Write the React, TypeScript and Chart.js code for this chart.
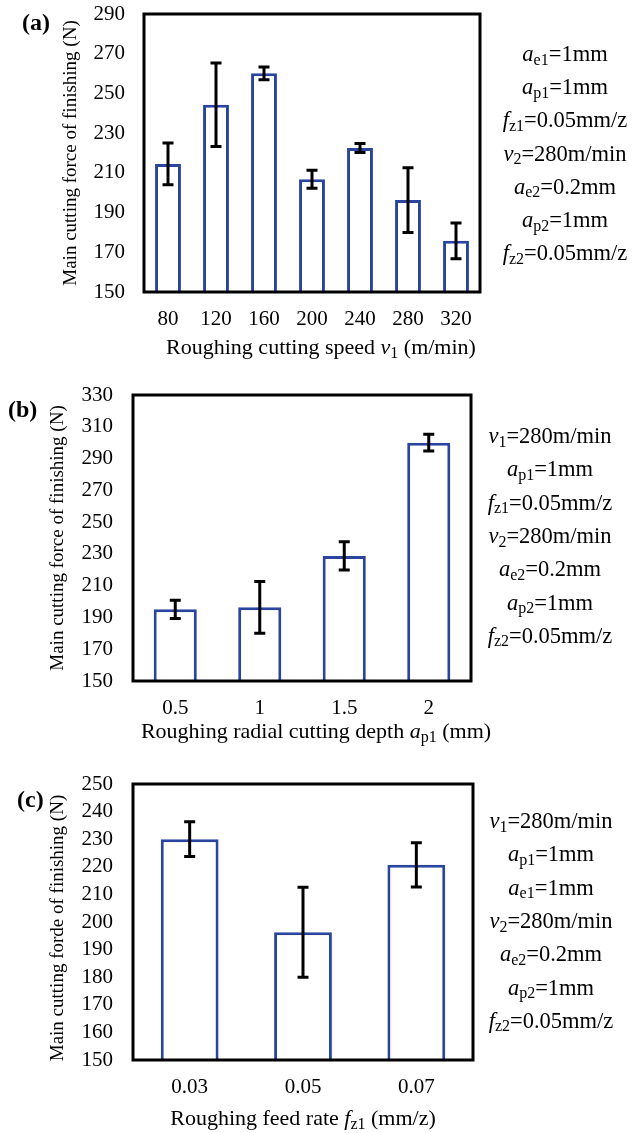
import { useEffect, useRef } from 'react';
import { Chart, registerables } from 'chart.js';

Chart.register(...registerables);

// (a) roughing cutting speed
const speedLabels = ['80', '120', '160', '200', '240', '280', '320'];
const speedForce = [214.5, 244.3, 260.1, 206.8, 222.5, 196.3, 175.8];
const speedError = [10.5, 21, 3.2, 4.5, 2.3, 16.3, 9];
const speedNotes = ['*a*_e1_=1mm', '*a*_p1_=1mm', '*f*_z1_=0.05mm/z', '*v*_2_=280m/min', '*a*_e2_=0.2mm', '*a*_p2_=1mm', '*f*_z2_=0.05mm/z'];

// (b) roughing radial cutting depth
const depthLabels = ['0.5', '1', '1.5', '2'];
const depthForce = [195.1, 196.4, 228.7, 300];
const depthError = [5.7, 16.3, 8.9, 5.3];
const depthNotes = ['*v*_1_=280m/min', '*a*_p1_=1mm', '*f*_z1_=0.05mm/z', '*v*_2_=280m/min', '*a*_e2_=0.2mm', '*a*_p2_=1mm', '*f*_z2_=0.05mm/z'];

// (c) roughing feed rate
const feedLabels = ['0.03', '0.05', '0.07'];
const feedForce = [230, 196.3, 220.7];
const feedError = [6.3, 16.3, 8];
const feedNotes = ['*v*_1_=280m/min', '*a*_p1_=1mm', '*a*_e1_=1mm', '*v*_2_=280m/min', '*a*_e2_=0.2mm', '*a*_p2_=1mm', '*f*_z2_=0.05mm/z'];

const SERIF = "'Liberation Serif', 'Times New Roman', serif";
const BLUE = '#2a459e';
const X_AXIS_H = 40;

type Panel = {
  tag: string;
  labels: string[];
  values: number[];
  errors: number[];
  notes: string[];
  yMin: number;
  yMax: number;
  yStep: number;
  yTitle: string;
  xTitle: string;
  barFrac: number;
  // layout (canvas-local pixels)
  top: number;
  height: number;
  area: { l: number; r: number; t: number; b: number };
  yTickPad: number;
  tagPos: [number, number];
  yTitlePos: [number, number];
  xTitlePos: [number, number];
  notesPos: [number, number, number];
};

const panels: Panel[] = [
  {
    tag: '(a)', labels: speedLabels, values: speedForce, errors: speedError, notes: speedNotes,
    yMin: 150, yMax: 290, yStep: 20,
    yTitle: 'Main cutting force of finishing (N)',
    xTitle: 'Roughing cutting speed *v*_1_ (m/min)',
    barFrac: 0.54,
    top: 0, height: 375, area: { l: 144, r: 480, t: 14, b: 292 }, yTickPad: 19,
    tagPos: [22, 30], yTitlePos: [71, 153], xTitlePos: [321, 354], notesPos: [565, 61, 33.2],
  },
  {
    tag: '(b)', labels: depthLabels, values: depthForce, errors: depthError, notes: depthNotes,
    yMin: 150, yMax: 330, yStep: 20,
    yTitle: 'Main cutting force of finishing (N)',
    xTitle: 'Roughing radial cutting depth *a*_p1_ (mm)',
    barFrac: 0.51,
    top: 378, height: 382, area: { l: 133, r: 471, t: 17, b: 303 }, yTickPad: 20,
    tagPos: [8, 39], yTitlePos: [58, 160], xTitlePos: [316, 360], notesPos: [550, 65, 33.3],
  },
  {
    tag: '(c)', labels: feedLabels, values: feedForce, errors: feedError, notes: feedNotes,
    yMin: 150, yMax: 250, yStep: 10,
    yTitle: 'Main cutting forde of finishing (N)',
    xTitle: 'Roughing feed rate *f*_z1_ (mm/z)',
    barFrac: 0.51,
    top: 762, height: 371, area: { l: 133, r: 473, t: 22, b: 298 }, yTickPad: 20,
    tagPos: [17, 45], yTitlePos: [58, 166], xTitlePos: [303, 363], notesPos: [551, 66, 33.3],
  },
];

type Seg = { text: string; kind: 'n' | 'i' | 's' };

// "*x*" is italic, "_x_" is a subscript, the rest is upright
function parseRich(s: string): Seg[] {
  const out: Seg[] = [];
  const re = /\*([^*]+)\*|_([^_]+)_|([^*_]+)/g;
  let m: RegExpExecArray | null;
  while ((m = re.exec(s))) {
    if (m[1]) out.push({ text: m[1], kind: 'i' });
    else if (m[2]) out.push({ text: m[2], kind: 's' });
    else out.push({ text: m[3], kind: 'n' });
  }
  return out;
}

function segFont(kind: Seg['kind'], size: number) {
  if (kind === 'i') return `italic ${size}px ${SERIF}`;
  if (kind === 's') return `${Math.round(size * 0.72)}px ${SERIF}`;
  return `${size}px ${SERIF}`;
}

function drawRich(ctx: CanvasRenderingContext2D, s: string, cx: number, baseline: number, size: number) {
  const segs = parseRich(s);
  const widths = segs.map((g) => {
    ctx.font = segFont(g.kind, size);
    return ctx.measureText(g.text).width;
  });
  const total = widths.reduce((a, b) => a + b, 0);
  let x = cx - total / 2;
  ctx.textAlign = 'left';
  ctx.textBaseline = 'alphabetic';
  segs.forEach((g, i) => {
    ctx.font = segFont(g.kind, size);
    const y = g.kind === 's' ? baseline + size * 0.16 : baseline;
    ctx.fillText(g.text, x, y);
    x += widths[i];
  });
}

function panelPlugin(p: Panel) {
  return {
    id: 'panelDecor',
    afterDatasetsDraw(chart: any) {
      const { ctx, chartArea } = chart;
      const yScale = chart.scales.y;
      const meta = chart.getDatasetMeta(0);
      ctx.save();
      // error bars
      ctx.strokeStyle = '#000';
      ctx.lineWidth = 3;
      ctx.lineCap = 'butt';
      meta.data.forEach((bar: any, i: number) => {
        const v = p.values[i];
        const e = p.errors[i];
        const yHi = yScale.getPixelForValue(v + e);
        const yLo = yScale.getPixelForValue(v - e);
        const x = bar.x;
        ctx.beginPath();
        ctx.moveTo(x, yHi);
        ctx.lineTo(x, yLo);
        ctx.moveTo(x - 5.5, yHi);
        ctx.lineTo(x + 5.5, yHi);
        ctx.moveTo(x - 5.5, yLo);
        ctx.lineTo(x + 5.5, yLo);
        ctx.stroke();
      });
      // plot frame
      ctx.lineWidth = 3;
      ctx.strokeRect(chartArea.left, chartArea.top, chartArea.right - chartArea.left, chartArea.bottom - chartArea.top);
      ctx.restore();
    },
    afterDraw(chart: any) {
      const { ctx } = chart;
      ctx.save();
      ctx.fillStyle = '#000';
      // panel tag
      ctx.font = `bold 24px ${SERIF}`;
      ctx.textAlign = 'left';
      ctx.textBaseline = 'alphabetic';
      ctx.fillText(p.tag, p.tagPos[0], p.tagPos[1]);
      // y-axis title
      ctx.save();
      ctx.translate(p.yTitlePos[0], p.yTitlePos[1]);
      ctx.rotate(-Math.PI / 2);
      ctx.font = `19px ${SERIF}`;
      ctx.textAlign = 'center';
      ctx.textBaseline = 'middle';
      ctx.fillText(p.yTitle, 0, 0);
      ctx.restore();
      // x-axis title
      drawRich(ctx, p.xTitle, p.xTitlePos[0], p.xTitlePos[1], 22);
      // machining parameters
      const [nx, ny, step] = p.notesPos;
      p.notes.forEach((n, i) => drawRich(ctx, n, nx, ny + i * step, 22.5));
      ctx.restore();
    },
  };
}

function BarPanel({ p }: { p: Panel }) {
  const ref = useRef<HTMLCanvasElement>(null);
  useEffect(() => {
    const canvas = ref.current;
    if (!canvas) return;
    const tickFont = { family: SERIF, size: 21 };
    const chart = new Chart(canvas, {
      type: 'bar',
      data: {
        labels: p.labels,
        datasets: [
          {
            data: p.values,
            backgroundColor: '#ffffff',
            borderColor: BLUE,
            borderWidth: 3,
            barPercentage: p.barFrac,
            categoryPercentage: 1,
          },
        ],
      },
      options: {
        responsive: false,
        animation: false,
        devicePixelRatio: 1,
        layout: {
          padding: {
            left: 0,
            right: 640 - p.area.r,
            top: p.area.t,
            bottom: p.height - p.area.b - X_AXIS_H,
          },
        },
        plugins: { legend: { display: false }, tooltip: { enabled: false } },
        scales: {
          x: {
            grid: { display: false, drawTicks: false },
            border: { display: false },
            ticks: { font: tickFont, color: '#000', padding: 15, maxRotation: 0, autoSkip: false },
            afterFit: (s: any) => {
              s.height = X_AXIS_H;
              s.paddingLeft = 0;
              s.paddingRight = 0;
            },
          },
          y: {
            min: p.yMin,
            max: p.yMax,
            grid: { display: false, drawTicks: false },
            border: { display: false },
            ticks: { font: tickFont, color: '#000', padding: p.yTickPad, stepSize: p.yStep, autoSkip: false },
            afterFit: (s: any) => {
              s.width = p.area.l;
              s.paddingTop = 0;
              s.paddingBottom = 0;
            },
          },
        },
      } as any,
      plugins: [panelPlugin(p)],
    });
    return () => chart.destroy();
  }, [p]);
  return (
    <canvas
      ref={ref}
      width={640}
      height={p.height}
      style={{ position: 'absolute', left: 0, top: p.top, width: 640, height: p.height }}
    />
  );
}

export default function App() {
  return (
    <div style={{ position: 'absolute', left: 0, top: 0, width: 640, height: 1133, background: '#fff' }}>
      {panels.map((p) => (
        <BarPanel key={p.tag} p={p} />
      ))}
    </div>
  );
}
